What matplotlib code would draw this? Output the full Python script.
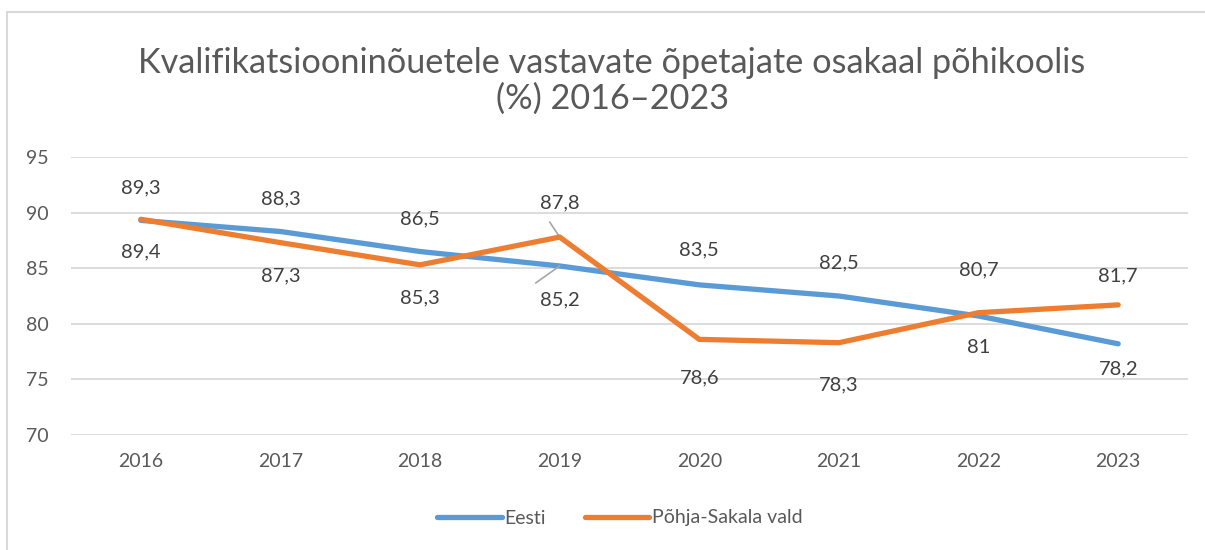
import matplotlib
matplotlib.use("Agg")
import matplotlib.pyplot as plt
from matplotlib.patches import Rectangle
from matplotlib.lines import Line2D

# data
years = ["2016", "2017", "2018", "2019", "2020", "2021", "2022", "2023"]
eesti = [89.3, 88.3, 86.5, 85.2, 83.5, 82.5, 80.7, 78.2]
pohja_sakala = [89.4, 87.3, 85.3, 87.8, 78.6, 78.3, 81, 81.7]

# label offsets in pixels (negative = above the line)
eesti_dy = [-33, -33, -33, 34, -35, -33, -46, 25]
pohja_dy = [33, 33, 33, -34, 39, 42, 35, -29]

BLUE = "#5B9BD5"
ORANGE = "#ED7D31"
TEXT = "#595959"
LABEL = "#404040"
GRID = "#D9D9D9"

plt.rcParams["font.family"] = ["Lato", "DejaVu Sans"]

W, H = 1205, 550
fig = plt.figure(figsize=(W / 100, H / 100), dpi=100)

# chart border (Excel chart area)
fig.patches.append(Rectangle((7 / W, -0.1), 1.2, 1 - 12 / H + 0.1, transform=fig.transFigure,
                             fill=False, edgecolor="#D9D9D9", linewidth=1.5))

ax = fig.add_axes([71 / W, 1 - 435 / H, (1188 - 71) / W, (435 - 157) / H])
x = list(range(len(years)))

ax.plot(x, eesti, color=BLUE, lw=3.8, solid_capstyle="round", zorder=3)
ax.plot(x, pohja_sakala, color=ORANGE, lw=3.8, solid_capstyle="round", zorder=4)

ax.set_xlim(-0.5, len(years) - 0.5)
ax.set_ylim(70, 95)
ax.set_yticks([70, 75, 80, 85, 90, 95])
ax.set_xticks(x)
ax.set_xticklabels(years)
ax.tick_params(axis="both", length=0, labelsize=14, colors=TEXT)
ax.tick_params(axis="x", pad=13)
ax.tick_params(axis="y", pad=16)
ax.grid(axis="y", color=GRID, lw=1.3)
ax.set_axisbelow(True)
for s in ax.spines.values():
    s.set_visible(False)


def fmt(v):
    s = f"{v:.1f}".rstrip("0").rstrip(".")
    return s.replace(".", ",")


def px_to_pt(px):
    return px * 72 / 100


for i in range(len(years)):
    for val, dy in ((eesti[i], eesti_dy[i]), (pohja_sakala[i], pohja_dy[i])):
        ax.annotate(fmt(val), (i, val), xytext=(0, -px_to_pt(dy)), textcoords="offset points",
                    ha="center", va="center", fontsize=14.5, color=LABEL, zorder=5)

# leader lines at 2019
ax.annotate("", (3, pohja_sakala[3]), xytext=(-px_to_pt(10), px_to_pt(15)), textcoords="offset points",
            arrowprops=dict(arrowstyle="-", color="#A6A6A6", lw=1.2, shrinkA=0, shrinkB=0))
ax.annotate("", (3, eesti[3]), xytext=(-px_to_pt(24), -px_to_pt(17)), textcoords="offset points",
            arrowprops=dict(arrowstyle="-", color="#A6A6A6", lw=1.2, shrinkA=0, shrinkB=0))

fig.text(612 / W, 1 - 81 / H,
         "Kvalifikatsiooninõuetele vastavate õpetajate osakaal põhikoolis\n(%) 2016–2023",
         ha="center", va="center", fontsize=24.7, color=TEXT, linespacing=1.12)

handles = [Line2D([], [], color=BLUE, lw=3.8, solid_capstyle="round"),
           Line2D([], [], color=ORANGE, lw=3.8, solid_capstyle="round")]
fig.legend(handles, ["Eesti", "Põhja-Sakala vald"], loc="center", bbox_to_anchor=(620 / W, 1 - 518 / H),
           ncol=2, frameon=False, fontsize=14, labelcolor=TEXT, handlelength=3.3,
           handletextpad=0.15, columnspacing=2.0)

fig.savefig("out.png", dpi=100)
